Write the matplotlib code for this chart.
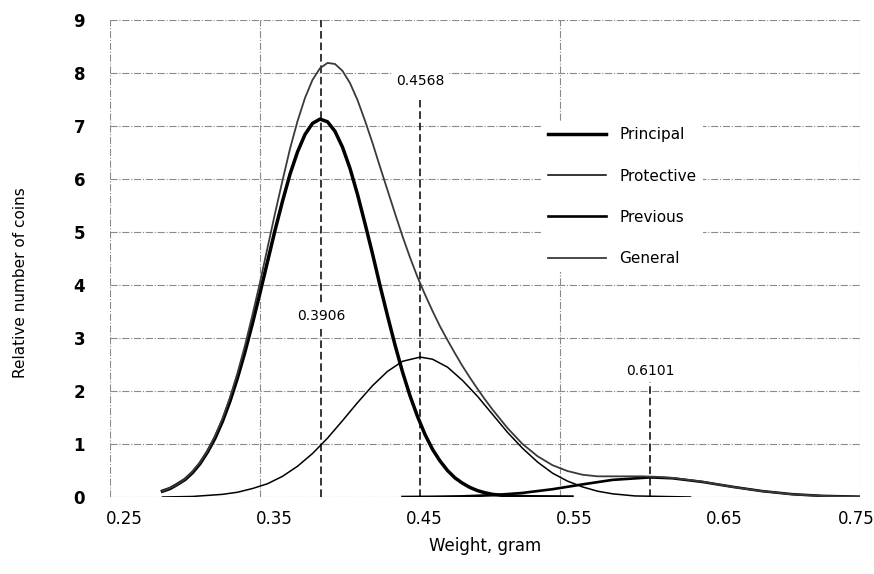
import matplotlib
matplotlib.use("Agg")
import matplotlib.pyplot as plt
from matplotlib.transforms import ScaledTranslation

# weight (gram) and relative number of coins
principal_x = [0.285, 0.29, 0.295, 0.30, 0.305, 0.31, 0.315, 0.32, 0.325, 0.33,
               0.335, 0.34, 0.345, 0.35, 0.355, 0.36, 0.365, 0.37, 0.375, 0.38,
               0.385, 0.39, 0.395, 0.40, 0.405, 0.41, 0.415, 0.42, 0.425, 0.43,
               0.435, 0.44, 0.445, 0.45, 0.455, 0.46, 0.465, 0.47, 0.475, 0.48,
               0.485, 0.49, 0.495, 0.50, 0.505, 0.515, 0.530, 0.558]
principal_y = [0.11, 0.16, 0.24, 0.33, 0.46, 0.63, 0.85, 1.11, 1.43, 1.81,
               2.25, 2.74, 3.28, 3.85, 4.44, 5.03, 5.58, 6.09, 6.51, 6.84,
               7.05, 7.13, 7.08, 6.90, 6.60, 6.20, 5.71, 5.16, 4.59, 3.99,
               3.42, 2.87, 2.36, 1.91, 1.52, 1.18, 0.90, 0.68, 0.50, 0.36,
               0.26, 0.18, 0.12, 0.08, 0.05, 0.02, 0.005, 0.0]

protective_x = [0.285, 0.305, 0.325, 0.335, 0.345, 0.355, 0.365, 0.375, 0.385, 0.395,
                0.405, 0.415, 0.425, 0.435, 0.445, 0.4568, 0.465, 0.475, 0.485, 0.495,
                0.505, 0.515, 0.525, 0.535, 0.545, 0.555, 0.565, 0.575, 0.585, 0.600, 0.637]
protective_y = [0.0, 0.01, 0.05, 0.09, 0.16, 0.25, 0.39, 0.58, 0.82, 1.11,
                1.44, 1.78, 2.10, 2.37, 2.56, 2.64, 2.60, 2.45, 2.20, 1.90,
                1.56, 1.22, 0.92, 0.66, 0.45, 0.30, 0.19, 0.11, 0.06, 0.02, 0.0]

previous_x = [0.445, 0.465, 0.485, 0.505, 0.525, 0.545, 0.565, 0.585, 0.6101, 0.625,
              0.645, 0.665, 0.685, 0.705, 0.725, 0.75]
previous_y = [0.0, 0.004, 0.012, 0.034, 0.077, 0.147, 0.238, 0.323, 0.37, 0.353,
              0.284, 0.192, 0.110, 0.052, 0.021, 0.005]

general_x = [0.285, 0.29, 0.295, 0.30, 0.305, 0.31, 0.315, 0.32, 0.325, 0.33,
             0.335, 0.34, 0.345, 0.35, 0.355, 0.36, 0.365, 0.37, 0.375, 0.38,
             0.385, 0.39, 0.395, 0.40, 0.405, 0.41, 0.415, 0.42, 0.425, 0.43,
             0.435, 0.44, 0.445, 0.45, 0.455, 0.46, 0.465, 0.47, 0.475, 0.48,
             0.485, 0.49, 0.495, 0.50, 0.505, 0.515, 0.525, 0.535, 0.545, 0.555,
             0.565, 0.575, 0.585, 0.595, 0.605, 0.615, 0.625, 0.645, 0.665, 0.685,
             0.705, 0.725, 0.75]
general_y = [0.11, 0.17, 0.24, 0.34, 0.48, 0.65, 0.87, 1.15, 1.48, 1.88,
             2.34, 2.86, 3.44, 4.05, 4.70, 5.35, 5.97, 6.57, 7.09, 7.53,
             7.87, 8.09, 8.19, 8.17, 8.04, 7.81, 7.49, 7.10, 6.68, 6.23,
             5.79, 5.35, 4.92, 4.52, 4.15, 3.82, 3.51, 3.22, 2.96, 2.71,
             2.47, 2.25, 2.04, 1.84, 1.65, 1.30, 1.00, 0.77, 0.60, 0.49,
             0.42, 0.39, 0.39, 0.39, 0.39, 0.38, 0.36, 0.29, 0.19, 0.11,
             0.05, 0.02, 0.005]

# modes of the three groups, with the heights the dashed markers reach
modes = [0.3906, 0.4568, 0.6101]
mode_tops = [9.0, 7.5, 2.2]
mode_label_y = [3.42, 7.85, 2.38]

x_ticks = [0.25, 0.35, 0.45, 0.55, 0.65, 0.75]
x_grid = [0.25, 0.35, 0.55, 0.75]
y_ticks = list(range(0, 10))

fig = plt.figure(figsize=(8.74, 5.74), dpi=100)
ax = fig.add_axes([110 / 874, 77 / 574, 750 / 874, 477 / 574])

for y in y_ticks:
    ax.axhline(y, color='#8a8a8a', lw=0.8, ls='-.', zorder=0)
for x in x_grid:
    ax.axvline(x, color='#8a8a8a', lw=0.8, ls='-.', zorder=0)

ax.plot(principal_x, principal_y, color='black', lw=2.5, label='Principal', zorder=3)
ax.plot(protective_x, protective_y, color='black', lw=1.1, label='Protective', zorder=3)
ax.plot(previous_x, previous_y, color='black', lw=1.9, label='Previous', zorder=3)
ax.plot(general_x, general_y, color='#3a3a3a', lw=1.3, label='General', zorder=3)

ax.vlines(modes, 0, mode_tops, colors='black', linestyles=(0, (5, 2.5)), lw=1.1, zorder=2)
for m, ly in zip(modes, mode_label_y):
    ax.text(m, ly, f"{m:.4f}", ha='center', va='center', fontsize=10, zorder=4,
            bbox=dict(facecolor='white', edgecolor='none', pad=3))

ax.set_xlim(0.25, 0.75)
ax.set_ylim(0, 9)
ax.set_xticks(x_ticks)
ax.set_xticklabels([f"{t:.2f}" for t in x_ticks])
ax.set_yticks(y_ticks)
ax.tick_params(length=0, labelsize=12)
ax.tick_params(axis='y', pad=18)
ax.tick_params(axis='x', pad=9)
for lab in ax.get_yticklabels():
    lab.set_fontweight('bold')
# the labels sit a little right of their gridlines, the last one is pulled in
xlabs = ax.get_xticklabels()
for i, lab in enumerate(xlabs):
    dx = 14 if i < len(xlabs) - 1 else -4
    lab.set_transform(lab.get_transform() + ScaledTranslation(dx / 100, 0, fig.dpi_scale_trans))
for s in ax.spines.values():
    s.set_visible(False)

ax.set_xlabel('Weight, gram', fontsize=12, labelpad=7)
ax.set_ylabel('Relative number of coins', fontsize=11)
ax.yaxis.set_label_coords(-0.11, 0.45)

leg = ax.legend(loc='upper left', bbox_to_anchor=(0.565, 0.804), frameon=True,
                fontsize=11, handlelength=3.8, handletextpad=0.9, labelspacing=1.72,
                borderpad=0.4, fancybox=False)
leg.get_frame().set_edgecolor('none')
leg.get_frame().set_facecolor('white')
leg.get_frame().set_alpha(1)

fig.savefig('out.png', dpi=100)
